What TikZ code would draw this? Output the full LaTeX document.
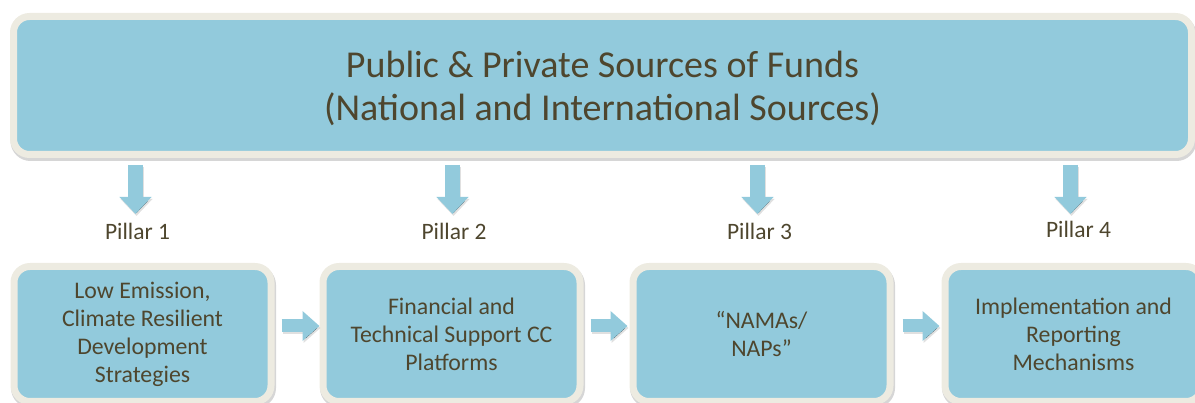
\documentclass[tikz,border=0pt]{standalone}
\usepackage{fontspec}
\setmainfont{Carlito}
\usetikzlibrary{arrows.meta}
\definecolor{boxfill}{RGB}{146,202,220}
\definecolor{boxrim}{RGB}{237,235,225}
\definecolor{txt}{RGB}{78,70,46}
\begin{document}
\begin{tikzpicture}[x=1pt,y=-1pt,
  box/.style={draw=boxrim, fill=boxfill, line width=7pt, rounded corners=16pt,
    text=txt, align=center, inner sep=2pt,
    preaction={draw=black, draw opacity=0.16, line width=8pt,
      transform canvas={xshift=1pt,yshift=-2.5pt}}},
  smallbox/.style={box, minimum width=257pt, minimum height=135pt,
    font=\fontsize{23.8}{28}\selectfont},
  pil/.style={text=txt, font=\fontsize{23.5}{28}\selectfont, anchor=base,
    inner sep=0pt, text height=16pt, text depth=5pt},
  fatv/.style={draw=boxfill, line width=15pt,
    -{Triangle[length=17pt,width=31pt]},
    preaction={draw=black, draw opacity=0.12, line width=15pt,
      -{Triangle[length=17pt,width=31pt]}, transform canvas={xshift=1pt,yshift=-2pt}}},
  fath/.style={draw=boxfill, line width=13pt,
    -{Triangle[length=17pt,width=29pt]},
    preaction={draw=black, draw opacity=0.12, line width=13pt,
      -{Triangle[length=17pt,width=29pt]}, transform canvas={xshift=1pt,yshift=-2pt}}}
]
\useasboundingbox (0,0) rectangle (1195,403);
\clip (0,0) rectangle (1195,403);

\node[box, minimum width=1178pt, minimum height=138pt] (top) at (602.5,85.5) {};
\node[text=txt, align=center, font=\fontsize{38}{43}\selectfont] (toptext)
  at ([yshift=-3pt]top.center)
  {Public \& Private Sources of Funds\\(National and International Sources)};

\node[pil] (p1) at (137.5,240) {Pillar 1};
\node[pil] (p2) at (454,240) {Pillar 2};
\node[pil] (p3) at (759.5,240) {Pillar 3};
\node[pil] (p4) at (1078.5,238) {Pillar 4};

\node[smallbox] (b1) at (142.5,334) {Low Emission,\\Climate Resilient\\Development\\Strategies};
\node[smallbox] (b2) at (451.5,334) {Financial and\\Technical Support CC\\Platforms};
\node[smallbox] (b3) at (761.5,334) {“NAMAs/\\NAPs”};
\node[smallbox] (b4) at (1073.5,334) {Implementation and\\Reporting\\Mechanisms};

\coordinate (t1) at (135.5,214);
\coordinate (t2) at (452.5,214);
\coordinate (t3) at (757.5,214);
\coordinate (t4) at (1070.5,214);
\foreach \i in {1,2,3,4}{
  \path (top.south -| t\i) coordinate (s\i);
  \draw[fatv] ([yshift=-7pt]s\i) -- (t\i);
}

\coordinate (h1) at (0,326);
\draw[fath] ([xshift=7pt]b1.east |- h1) -- (b2.west |- h1);
\draw[fath] ([xshift=7pt]b2.east |- h1) -- ([xshift=-2pt]b3.west |- h1);
\draw[fath] ([xshift=9pt]b3.east |- h1) -- ([xshift=-2pt]b4.west |- h1);
\end{tikzpicture}
\end{document}
